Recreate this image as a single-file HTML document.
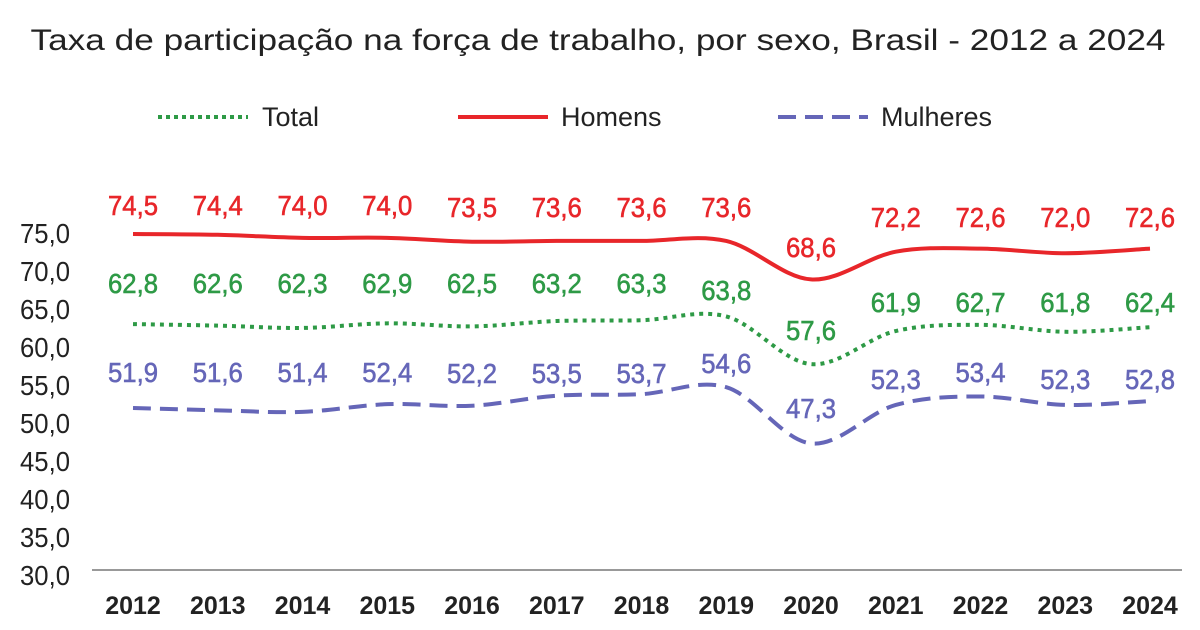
<!DOCTYPE html>
<html><head><meta charset="utf-8"><style>
html,body{margin:0;padding:0;background:#fff;}
svg{display:block;font-family:"Liberation Sans",sans-serif;}
</style></head><body>
<svg id="c" width="1200" height="630" xmlns="http://www.w3.org/2000/svg">
<text x="598" y="50" font-size="30" text-anchor="middle" fill="#222" textLength="1135" lengthAdjust="spacingAndGlyphs">Taxa de participação na força de trabalho, por sexo, Brasil - 2012 a 2024</text>
<line x1="158" y1="117" x2="248" y2="117" stroke="#2e9a46" stroke-width="4" stroke-dasharray="4 4"/>
<text x="262" y="126" font-size="27" fill="#222">Total</text>
<line x1="458" y1="117" x2="548" y2="117" stroke="#e8262a" stroke-width="4"/>
<text x="561" y="126" font-size="27" fill="#222">Homens</text>
<line x1="778" y1="117" x2="868" y2="117" stroke="#6566b8" stroke-width="4" stroke-dasharray="18 9"/>
<text x="881" y="126" font-size="27" fill="#222">Mulheres</text>
<line x1="92" y1="570" x2="1182" y2="570" stroke="#999" stroke-width="2"/>
<g id="g"></g>
</svg>
<script>
var g=document.getElementById('g'),s='';
function X(i){return 133+i*84.75;}
function Y(v){return 234+(74.5-v)*7.7;}
for(var k=0;k<10;k++){var v=75-5*k;s+='<text x="20" y="'+(243+k*38)+'" font-size="28" fill="#222" textLength="50" lengthAdjust="spacingAndGlyphs">'+v+',0</text>';}
for(var i=0;i<13;i++){s+='<text x="'+X(i)+'" y="614" font-size="25" font-weight="bold" text-anchor="middle" fill="#222">'+(2012+i)+'</text>';}
function path(d){var p='M'+X(0)+','+Y(d[0]);for(var i=0;i<d.length-1;i++){var p0=i?i-1:0,p3=i+2<d.length?i+2:i+1;
var x1=X(i)+(X(i+1)-X(p0))/6,y1=Y(d[i])+(Y(d[i+1])-Y(d[p0]))/6,x2=X(i+1)-(X(p3)-X(i))/6,y2=Y(d[i+1])-(Y(d[p3])-Y(d[i]))/6;
p+=' C'+x1+','+y1+' '+x2+','+y2+' '+X(i+1)+','+Y(d[i+1]);}return p;}
var H=[74.5,74.4,74.0,74.0,73.5,73.6,73.6,73.6,68.6,72.2,72.6,72.0,72.6],
T=[62.8,62.6,62.3,62.9,62.5,63.2,63.3,63.8,57.6,61.9,62.7,61.8,62.4],
M=[51.9,51.6,51.4,52.4,52.2,53.5,53.7,54.6,47.3,52.3,53.4,52.3,52.8];
var HL=[205,205,205,205,207,207,207,207,247,217,217,217,217],
TL=[283,283,283,283,283,283,283,290,330,302,302,302,302],
ML=[372,372,372,372,373,373,373,363,408,379,372,379,379];
s+='<path d="'+path(H)+'" fill="none" stroke="#e8262a" stroke-width="4"/>';
s+='<path d="'+path(T)+'" fill="none" stroke="#2e9a46" stroke-width="4" stroke-dasharray="4 5"/>';
s+='<path d="'+path(M)+'" fill="none" stroke="#6566b8" stroke-width="4" stroke-dasharray="18 9"/>';
function lab(d,L,c){for(var i=0;i<13;i++)s+='<text x="'+(X(i)-25)+'" y="'+(L[i]+10)+'" font-size="28" fill="'+c+'" stroke="'+c+'" stroke-width="0.6" textLength="50" lengthAdjust="spacingAndGlyphs">'+d[i].toFixed(1).replace('.',',')+'</text>';}
lab(H,HL,'#e8262a');lab(T,TL,'#2e9a46');lab(M,ML,'#6566b8');
g.innerHTML=s;
</script>
</body></html>
